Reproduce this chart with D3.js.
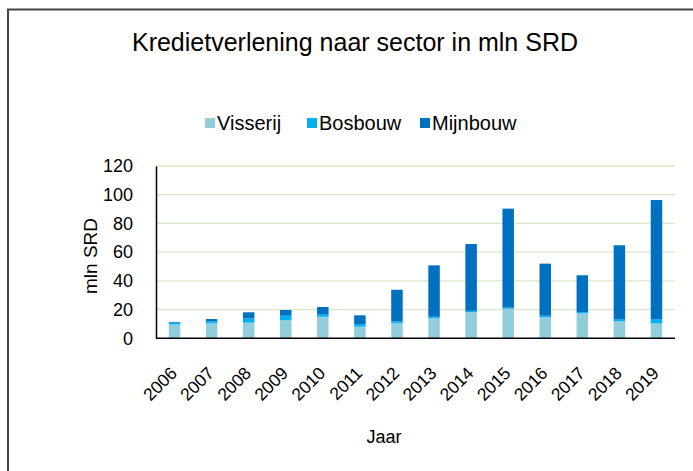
<!DOCTYPE html>
<html><head><meta charset="utf-8">
<script src="https://cdn.jsdelivr.net/npm/d3@7"></script>
<style>body{margin:0;background:#fff}svg{display:block;font-family:"Liberation Sans",Arial,sans-serif}</style>
</head><body><svg id="c" width="693" height="471"></svg>
<script>
const years = ["2006","2007","2008","2009","2010","2011","2012","2013","2014","2015","2016","2017","2018","2019"];
const visserij = [9.6,10.4,10.9,12.5,15.0,8.1,10.4,13.9,18.3,20.6,14.6,17.4,11.8,10.4];
const bosbouw  = [1.0,1.4,3.0,3.2,1.9,1.9,1.4,1.1,0.8,0.7,1.1,0.9,1.6,3.0];
const mijnbouw = [0.6,1.6,4.2,4.0,4.9,6.0,22.0,35.8,46.6,69.0,36.3,25.6,51.4,82.9];
const seriesNames = ["Visserij","Bosbouw","Mijnbouw"];
const colors = ["#92CDDC","#00B0F0","#0070C0"];
const yTicks = [0,20,40,60,80,100,120];

const svg = d3.select("#c");
// frame
svg.append("path").attr("d","M8,471 L8,9.5 L693,9.5").attr("fill","none").attr("stroke","#444").attr("stroke-width",2);

const m = {l:156, r:675, t:166, b:338.3};
const x = d3.scaleBand().domain(years).range([m.l,m.r]).paddingInner(0.69).paddingOuter(0.345);
const y = d3.scaleLinear().domain([0,120]).range([m.b,m.t]);

const table = years.map((yr,i)=>({year:yr, Visserij:visserij[i], Bosbouw:bosbouw[i], Mijnbouw:mijnbouw[i]}));
const stack = d3.stack().keys(seriesNames)(table);

// gridlines
svg.append("g").selectAll("line").data(yTicks.filter(d=>d>0)).join("line")
  .attr("x1",m.l).attr("x2",m.r).attr("y1",d=>y(d)).attr("y2",d=>y(d))
  .attr("stroke","#DCE6C8").attr("stroke-width",1.3);

// bars
svg.append("g").selectAll("g").data(stack).join("g").attr("fill",(d,i)=>colors[i])
  .selectAll("rect").data(d=>d).join("rect")
  .attr("x",d=>x(d.data.year)).attr("width",x.bandwidth())
  .attr("y",d=>y(d[1])).attr("height",d=>y(d[0])-y(d[1]));

// axes
const ya = svg.append("g").attr("transform",`translate(${m.l},0)`)
  .call(d3.axisLeft(y).tickValues(yTicks).tickSize(0).tickPadding(23));
ya.select(".domain").attr("stroke","#000").attr("stroke-width",1.5);
ya.selectAll("text").attr("font-size",18).attr("font-family","Liberation Sans, Arial").attr("fill","#000");

const xa = svg.append("g").attr("transform",`translate(0,${m.b})`)
  .call(d3.axisBottom(x).tickSize(0).tickSizeOuter(0));
xa.select(".domain").attr("d",`M${m.l},0H${m.r}`).attr("stroke","#000").attr("stroke-width",1.5);
xa.selectAll("text").attr("font-size",17.5).attr("font-family","Liberation Sans, Arial").attr("fill","#000")
  .attr("text-anchor","end").attr("dy",0).attr("y",0)
  .attr("transform","translate(3.5,36) rotate(-45)");

// title
svg.append("text").attr("x",355).attr("y",51).attr("text-anchor","middle")
  .attr("font-size",25).attr("fill","#000").text("Kredietverlening naar sector in mln SRD");

// axis titles
svg.append("text").attr("transform","translate(97,256) rotate(-90)").attr("text-anchor","middle")
  .attr("font-size",19).attr("fill","#000").text("mln SRD");
svg.append("text").attr("x",384).attr("y",443).attr("text-anchor","middle")
  .attr("font-size",18).attr("fill","#000").text("Jaar");

// legend
const legX = [205,307,420];
const lg = svg.append("g");
seriesNames.forEach((s,i)=>{
  lg.append("rect").attr("x",legX[i]).attr("y",118).attr("width",10).attr("height",10).attr("fill",colors[i]);
  lg.append("text").attr("x",legX[i]+12).attr("y",130).attr("font-size",20).attr("fill","#000").text(s);
});
</script></body></html>
